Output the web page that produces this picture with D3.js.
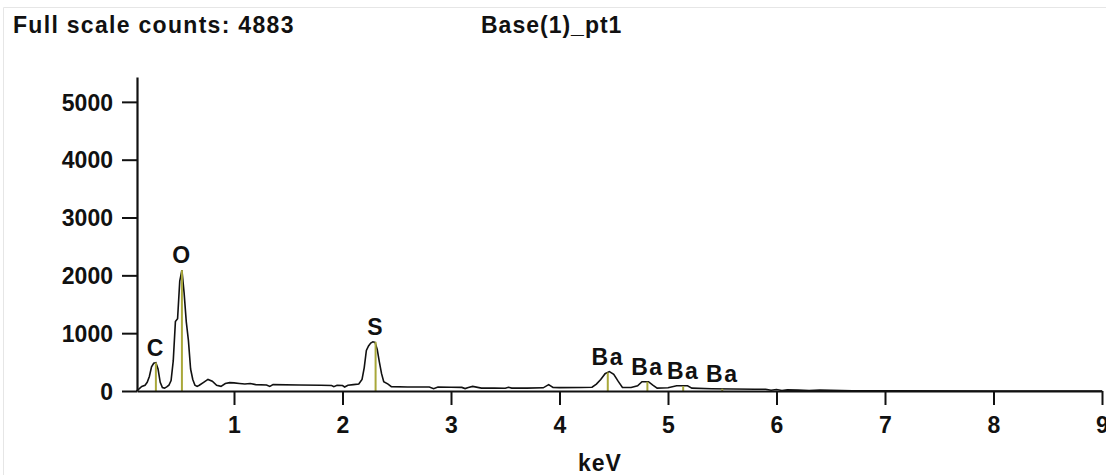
<!DOCTYPE html>
<html>
<head>
<meta charset="utf-8">
<script src="https://cdn.jsdelivr.net/npm/d3@7"></script>
<style>
  html, body { margin: 0; padding: 0; background: #fff; }
  svg text { font-family: "Liberation Sans", Arial, sans-serif; font-weight: bold; fill: #111; }
</style>
</head>
<body>
<svg id="chart" width="1106" height="475"></svg>
<script>
// EDS spectrum: energy (keV) and counts
const energy = [
  0.10, 0.12, 0.15, 0.18, 0.20, 0.22, 0.24, 0.26, 0.28, 0.30, 0.32, 0.34, 0.36, 0.38,
  0.40, 0.42, 0.44, 0.46, 0.48, 0.50, 0.52, 0.54, 0.56, 0.58, 0.60, 0.62, 0.64, 0.66,
  0.68, 0.72, 0.76, 0.80, 0.84, 0.88, 0.92, 0.96, 1.00, 1.05, 1.10, 1.15, 1.20, 1.30,
  1.33, 1.36, 1.60, 1.80, 1.90, 1.92, 1.95, 2.00, 2.02, 2.05, 2.10, 2.15, 2.18, 2.20,
  2.22, 2.24, 2.26, 2.28, 2.30, 2.32, 2.34, 2.36, 2.38, 2.42, 2.45, 2.60, 2.80, 2.84,
  2.88, 3.00, 3.10, 3.13, 3.16, 3.20, 3.28, 3.40, 3.50, 3.53, 3.56, 3.70, 3.85, 3.90,
  3.94, 4.00, 4.20, 4.30, 4.34, 4.38, 4.42, 4.46, 4.50, 4.54, 4.58, 4.66, 4.72, 4.76,
  4.82, 4.86, 4.90, 5.00, 5.08, 5.12, 5.18, 5.22, 5.40, 5.60, 5.80, 5.90, 5.95, 6.00,
  6.05, 6.10, 6.20, 6.30, 6.40, 6.50, 6.60, 6.70, 7.00, 8.00, 9.00
];
const counts = [
  0, 30, 80, 100, 150, 250, 420, 480, 490, 380, 150, 60, 50, 70,
  100, 180, 520, 1200, 1250, 1900, 2090, 1700, 1200, 870, 380, 200, 100, 80,
  100, 150, 200, 170, 100, 80, 130, 145, 140, 130, 120, 130, 110, 105,
  80, 110, 105, 100, 95, 75, 100, 95, 70, 100, 110, 120, 200, 400,
  700, 780, 830, 850, 840, 720, 500, 300, 160, 120, 75, 70, 68, 40,
  68, 65, 62, 42, 62, 80, 50, 50, 48, 65, 50, 50, 55, 110,
  60, 58, 60, 65, 120, 200, 300, 335, 290, 170, 60, 60, 90, 160,
  160, 100, 50, 55, 90, 92, 90, 50, 40, 35, 30, 30, 12, 25,
  10, 20, 15, 8, 18, 10, 6, 3, 2, 0, 0
];

// Element lines: label, energy (keV), line height (counts)
const elements = ["C", "O", "S", "Ba", "Ba", "Ba", "Ba"];
const lineEnergy = [0.28, 0.52, 2.305, 4.445, 4.81, 5.14, 5.50];
const lineHeight = [490, 2090, 850, 320, 160, 85, 38];

// Axis ticks
const xTicks = [1, 2, 3, 4, 5, 6, 7, 8, 9];
const yTicks = [0, 1000, 2000, 3000, 4000, 5000];

const titleLeft = "Full scale counts: 4883";
const titleCenter = "Base(1)_pt1";
const xLabel = "keV";

const svg = d3.select("#chart");

// light frame around the plot window
svg.append("path")
  .attr("d", "M3.5,475 V7.5 H1106")
  .attr("fill", "none")
  .attr("stroke", "#e6e6e6")
  .attr("stroke-width", 1);

const x = d3.scaleLinear().domain([0.106, 9]).range([137, 1102]);
const y = d3.scaleLinear().domain([0, 5430]).range([391, 77]);

// titles
svg.append("text").attr("x", 13).attr("y", 33)
  .style("font-size", "23px").style("letter-spacing", "1.3px")
  .text(titleLeft);
svg.append("text").attr("x", 481).attr("y", 33)
  .style("font-size", "23px").style("letter-spacing", "1px")
  .text(titleCenter);

// spectrum
const line = d3.line().x((d, i) => x(energy[i])).y(d => y(d));
svg.append("path")
  .datum(counts)
  .attr("d", line)
  .attr("fill", "none")
  .attr("stroke", "#111")
  .attr("stroke-width", 1.6)
  .attr("stroke-linejoin", "miter");

// element marker lines
svg.selectAll("line.el")
  .data(lineEnergy)
  .join("line")
  .attr("class", "el")
  .attr("x1", d => x(d)).attr("x2", d => x(d))
  .attr("y1", y(0)).attr("y2", (d, i) => y(lineHeight[i]))
  .attr("stroke", "#a9a83a")
  .attr("stroke-width", 2);

// element labels
svg.selectAll("text.el")
  .data(elements)
  .join("text")
  .attr("class", "el")
  .attr("x", (d, i) => x(lineEnergy[i]))
  .attr("y", (d, i) => y(lineHeight[i]) - 7)
  .attr("text-anchor", "middle")
  .style("font-size", "23px")
  .style("letter-spacing", "1.5px")
  .text(d => d);

// axes
const yAxis = d3.axisLeft(y).tickValues(yTicks).tickSize(15).tickSizeOuter(0).tickPadding(9).tickFormat(d3.format("d"));
const gy = svg.append("g").attr("transform", "translate(137,0)").call(yAxis);

const xAxis = d3.axisBottom(x).tickValues(xTicks).tickSize(14).tickSizeOuter(0).tickPadding(9).tickFormat(d3.format("d"));
const gx = svg.append("g").attr("transform", "translate(0,391)").call(xAxis);

[gx, gy].forEach(g => {
  g.select(".domain").attr("stroke", "#111").attr("stroke-width", 2.2);
  g.selectAll(".tick line").attr("stroke", "#111").attr("stroke-width", 2);
  g.selectAll(".tick text")
    .style("font-family", "'Liberation Sans', Arial, sans-serif")
    .style("font-weight", "bold")
    .style("font-size", "23px")
    .attr("fill", "#111");
});
gy.selectAll(".tick text").attr("dy", "0.36em");
gx.selectAll(".tick text").attr("dy", "0.82em");

// x axis title
svg.append("text").attr("x", 600).attr("y", 471)
  .attr("text-anchor", "middle")
  .style("font-size", "23px").style("letter-spacing", "1px")
  .text(xLabel);
</script>
</body>
</html>
